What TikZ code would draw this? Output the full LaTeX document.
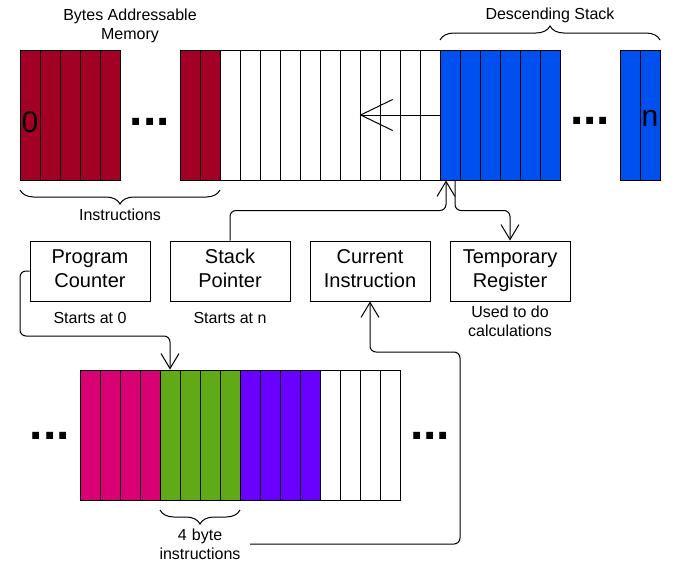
\documentclass[tikz,border=0pt]{standalone}
\usepackage{fontspec}
\setmainfont{Liberation Sans}
\usepackage{tikz}
\usetikzlibrary{arrows.meta,decorations.pathreplacing}

\definecolor{memred}{HTML}{A20025}
\definecolor{stackblue}{HTML}{0050EF}
\definecolor{insmagenta}{HTML}{D80073}
\definecolor{insgreen}{HTML}{60A917}
\definecolor{inspurple}{HTML}{6A00FF}

\newcommand{\regfont}{\fontsize{20}{24}\selectfont}
\newcommand{\notefont}{\fontsize{16}{19}\selectfont}

\begin{document}
\begin{tikzpicture}[x=1pt,y=-1pt]
		\useasboundingbox (0,0) rectangle (682,565);

		% memory cells
		\begin{scope}[every node/.style={rectangle,draw,line width=1pt,inner sep=0pt,
		              minimum width=20pt,minimum height=130pt}]
		    \foreach \i in {0,...,4}
		        \node[fill=memred] (a\i) at (30+20*\i,115) {};
		    \foreach \i in {0,1}
		        \node[fill=memred] (m\i) at (190+20*\i,115) {};
		    \foreach \i in {2,...,12}
		        \node[fill=white] (m\i) at (190+20*\i,115) {};
		    \foreach \i in {13,...,18}
		        \node[fill=stackblue] (m\i) at (190+20*\i,115) {};
		    \foreach \i in {0,1}
		        \node[fill=stackblue] (c\i) at (630+20*\i,115) {};
		    \foreach \i in {0,...,3}
		        \node[fill=insmagenta] (b\i) at (90+20*\i,435) {};
		    \foreach \i in {4,...,7}
		        \node[fill=insgreen] (b\i) at (90+20*\i,435) {};
		    \foreach \i in {8,...,11}
		        \node[fill=inspurple] (b\i) at (90+20*\i,435) {};
		    \foreach \i in {12,...,15}
		        \node[fill=white] (b\i) at (90+20*\i,435) {};
		\end{scope}

		% dots and cell labels
		\begin{scope}[every node/.style={inner sep=0pt,font=\fontsize{48}{48}\selectfont\bfseries}]
		    \node (dots1) at (150,122) {...};
		    \node (dots2) at (590,121) {...};
		    \node (dots3) at (50,436) {...};
		    \node (dots4) at (430,436) {...};
		\end{scope}
		\node[inner sep=0pt,font=\fontsize{30}{30}\selectfont] (zero) at (30,122) {0};
		\node[inner sep=0pt,font=\fontsize{30}{30}\selectfont] (last) at (650,118) {n};

		% registers
		\begin{scope}[every node/.style={rectangle,draw,line width=1pt,align=center,
		              minimum width=120pt,minimum height=60pt,font=\regfont}]
		    \node (pc) at (90,271) {\strut Program\\Counter\strut};
		    \node (sp) at (230,271) {\strut Stack\\Pointer\strut};
		    \node (ci) at (370,271) {\strut Current\\Instruction\strut};
		    \node (tr) at (510,271) {\strut Temporary\\Register\strut};
		\end{scope}

		% notes
		\begin{scope}[every node/.style={align=center,inner sep=0pt,font=\notefont}]
		    \node (title) at (130,26) {Bytes Addressable\\Memory};
		    \node (stacklbl) at (550,15) {Descending Stack};
		    \node (inslbl) at (120,215) {Instructions};
		    \node (pcnote) at (90,318) {Starts at 0};
		    \node (spnote) at (230,318) {Starts at n};
		    \node (trnote) at (510,321) {Used to do\\calculations};
		    \node[text width=100pt] (bytes) at (200,544) {4 byte\\instructions};
		\end{scope}

		% braces
		\begin{scope}[line width=1pt,decorate,decoration={brace,amplitude=14pt}]
		    \draw[decorate] (440,40) -- (660,40);
		    \draw[decorate] (220,190) -- (20,190);
		    \draw[decorate] (240,510) -- (160,510);
		\end{scope}

		% connectors
		\coordinate (pushpt) at ([xshift=-4pt]m13.south);
		\coordinate (poppt) at ([xshift=5pt]m13.south);
		\coordinate (pcbend) at (20,336);
		\coordinate (cibend) at (460,352);
		\begin{scope}[line width=1pt,rounded corners=6pt,
		              >={Straight Barb[length=15pt,width=18pt]}]
		    \draw[->] (sp.north) -- ++(0,-30) -| (pushpt);
		    \draw[->] (poppt) -- ++(0,30) -| (tr.north);
		    \draw[->] (pc.west) -| (pcbend) -| (b4.north);
		    \draw[->] (bytes.east) -| (cibend) -| (ci.south);
		\end{scope}
		\draw[line width=1pt,-{Straight Barb[length=32pt,width=31pt]}] (m13.west) -- (m9.west);
\end{tikzpicture}
\end{document}
